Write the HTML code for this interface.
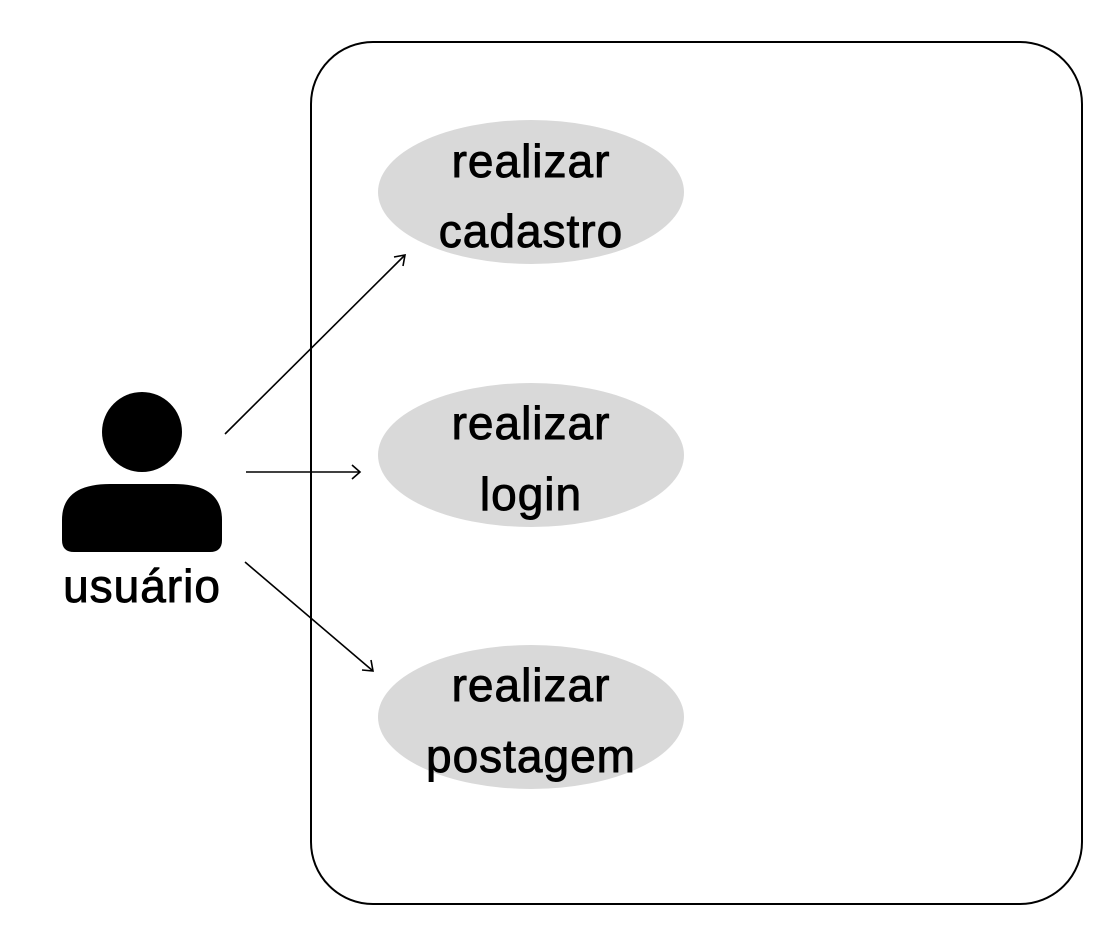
<!DOCTYPE html>
<html><head><meta charset="utf-8"><style>html,body{margin:0;padding:0;background:#fff;}svg{display:block}</style></head>
<body>
<svg width="1118" height="945" viewBox="0 0 1118 945" xmlns="http://www.w3.org/2000/svg">
<rect x="311" y="42" width="771" height="862" rx="62" ry="62" fill="#fff" stroke="#000" stroke-width="2"/>
<g fill="#d9d9d9">
<ellipse cx="531" cy="192" rx="153" ry="72"/>
<ellipse cx="531" cy="455" rx="153" ry="72"/>
<ellipse cx="531" cy="717" rx="153" ry="72"/>
</g>
<g font-family="Liberation Sans, sans-serif" font-size="46" letter-spacing="1" fill="#000" stroke="#000" stroke-width="0.9" text-anchor="middle">
<text x="531" y="177">realizar</text>
<text x="531" y="247">cadastro</text>
<text x="531" y="439">realizar</text>
<text x="531" y="510">login</text>
<text x="531" y="701">realizar</text>
<text x="531" y="772">postagem</text>
<text x="142" y="602">usuário</text>
</g>
<circle cx="142" cy="432" r="40" fill="#000"/>
<path d="M62 540 L62 520 Q62 484 110 484 L174 484 Q222 484 222 520 L222 540 Q222 552 210 552 L74 552 Q62 552 62 540 Z" fill="#000"/>
<g stroke="#000" stroke-width="1.6" fill="none">
<line x1="225" y1="434" x2="405" y2="255"/>
<polyline points="394,257 405,255 403,266"/>
<line x1="246" y1="472" x2="360" y2="472"/>
<polyline points="352,465 360,472 352,479"/>
<line x1="245" y1="562" x2="373" y2="671"/>
<polyline points="362,670 373,671 371,660"/>
</g>
</svg>
</body></html>
